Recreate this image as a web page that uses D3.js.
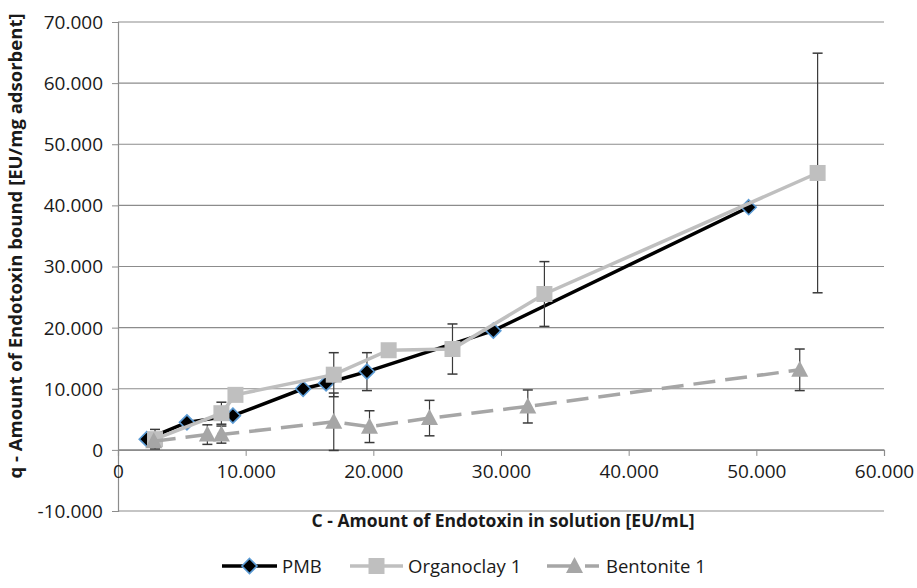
<!DOCTYPE html>
<html>
<head>
<meta charset="utf-8">
<script src="https://cdn.jsdelivr.net/npm/d3@7"></script>
<style>
  body { margin: 0; background: #fff; }
  text { font-family: "Open Sans", "Liberation Sans", sans-serif; fill: #1a1a1a; }
</style>
</head>
<body>
<svg id="chart" width="917" height="588"></svg>
<script>
//tick labels as printed on the chart
var xTicks = [0, 10000, 20000, 30000, 40000, 50000, 60000];
var xTickLabels = ["0", "10.000", "20.000", "30.000", "40.000", "50.000", "60.000"];
var yTicks = [-10, 0, 10, 20, 30, 40, 50, 60, 70];
var yTickLabels = ["-10.000", "0", "10.000", "20.000", "30.000", "40.000", "50.000", "60.000", "70.000"];

//PMB
var pmbX = [2250, 5400, 9000, 14500, 16300, 19500, 29400, 49400];
var pmbY = [1.75, 4.5, 5.6, 10.0, 10.9, 12.8, 19.5, 39.7];
var pmbErr = [0, 0, 0, 0, 0, 3.1, 0, 0];

//Organoclay 1
var orgX = [2900, 8100, 9200, 16900, 21200, 26200, 33400, 54800];
var orgY = [1.75, 6.0, 9.0, 12.3, 16.3, 16.5, 25.5, 45.3];
var orgErr = [1.6, 1.8, 0, 3.6, 0, 4.1, 5.3, 19.6];

//Bentonite 1
var benX = [2800, 7000, 8100, 16900, 19700, 24400, 32100, 53400];
var benY = [1.4, 2.5, 2.5, 4.6, 3.8, 5.2, 7.1, 13.1];
var benErr = [0, 1.6, 1.4, 4.7, 2.6, 2.9, 2.7, 3.4];

var seriesNames = ["PMB", "Organoclay 1", "Bentonite 1"];

var svg = d3.select("#chart");
var x = d3.scaleLinear().domain([0, 60000]).range([118, 884]);
var y = d3.scaleLinear().domain([-10, 70]).range([511, 22]);

function pts(xs, ys, es) {
	return xs.map(function(v, i) { return {x: v, y: ys[i], e: es[i]}; });
}
var series = [
	{name: seriesNames[0], values: pts(pmbX, pmbY, pmbErr), color: "#000", dash: null, marker: "diamond"},
	{name: seriesNames[1], values: pts(orgX, orgY, orgErr), color: "#bfbfbf", dash: null, marker: "square"},
	{name: seriesNames[2], values: pts(benX, benY, benErr), color: "#a6a6a6", dash: "22,10", marker: "triangle"}
];

//gridlines
svg.append("g")
	.selectAll("line").data(yTicks).join("line")
	.attr("x1", x(0)).attr("x2", x(60000))
	.attr("y1", function(d) { return y(d); }).attr("y2", function(d) { return y(d); })
	.attr("stroke", "#8c8c8c").attr("stroke-width", 1.2);

//y axis
var yAxis = d3.axisLeft(y).tickValues(yTicks).tickSize(6).tickPadding(9)
	.tickFormat(function(d, i) { return yTickLabels[i]; });
var gy = svg.append("g").attr("transform", "translate(" + x(0) + ",0)").call(yAxis);
gy.select(".domain").attr("stroke", "#8c8c8c").attr("stroke-width", 1.2);
gy.selectAll(".tick line").attr("stroke", "#8c8c8c");
gy.selectAll(".tick text").style("font-size", "19px").attr("fill", "#1a1a1a").attr("dy", "0.34em");

//x axis crossing at 0
var xAxis = d3.axisBottom(x).tickValues(xTicks).tickSize(6).tickPadding(9)
	.tickFormat(function(d, i) { return xTickLabels[i]; });
var gx = svg.append("g").attr("transform", "translate(0," + y(0) + ")").call(xAxis);
gx.select(".domain").attr("stroke", "#8c8c8c").attr("stroke-width", 1.2);
gx.selectAll(".tick line").attr("stroke", "#8c8c8c");
gx.selectAll(".tick text").style("font-size", "19px").attr("fill", "#1a1a1a");

//axis titles
svg.append("text")
	.attr("x", 503).attr("y", 527)
	.attr("text-anchor", "middle")
	.style("font-size", "17.5px").style("font-weight", "bold")
	.text("C - Amount of Endotoxin in solution [EU/mL]");
svg.append("text")
	.attr("transform", "translate(22,246) rotate(-90)")
	.attr("text-anchor", "middle")
	.style("font-size", "18.5px").style("font-weight", "bold")
	.text("q - Amount of Endotoxin bound [EU/mg adsorbent]");

//markers
function drawMarker(g, type, color) {
	if (type == "diamond")
		g.append("path").attr("d", "M0,-7.5L7.5,0L0,7.5L-7.5,0Z")
			.attr("fill", "#000").attr("stroke", "#5b9bd5").attr("stroke-width", 1.6);
	else if (type == "square")
		g.append("rect").attr("x", -8).attr("y", -8).attr("width", 16).attr("height", 16)
			.attr("fill", color);
	else
		g.append("path").attr("d", "M0,-9L8.5,7L-8.5,7Z").attr("fill", color);
}

var line = d3.line().x(function(d) { return x(d.x); }).y(function(d) { return y(d.y); });

series.forEach(function(s) {
	var g = svg.append("g");
	//error bars
	var eb = g.selectAll("g.err").data(s.values.filter(function(d) { return d.e > 0; })).join("g");
	eb.append("line")
		.attr("x1", function(d) { return x(d.x); }).attr("x2", function(d) { return x(d.x); })
		.attr("y1", function(d) { return y(d.y - d.e); }).attr("y2", function(d) { return y(d.y + d.e); })
		.attr("stroke", "#3a3a3a").attr("stroke-width", 1.2);
	[-1, 1].forEach(function(sg) {
		eb.append("line")
			.attr("x1", function(d) { return x(d.x) - 5; }).attr("x2", function(d) { return x(d.x) + 5; })
			.attr("y1", function(d) { return y(d.y + sg * d.e); }).attr("y2", function(d) { return y(d.y + sg * d.e); })
			.attr("stroke", "#3a3a3a").attr("stroke-width", 1.5);
	});
	g.append("path").datum(s.values)
		.attr("d", line)
		.attr("fill", "none")
		.attr("stroke", s.color).attr("stroke-width", 3.5)
		.attr("stroke-dasharray", s.dash);
	s.values.forEach(function(d) {
		drawMarker(g.append("g").attr("transform", "translate(" + x(d.x) + "," + y(d.y) + ")"), s.marker, s.color);
	});
});

//legend
var legendPos = [{x1: 222, x2: 277, tx: 282}, {x1: 350, x2: 403, tx: 408}, {x1: 547, x2: 602, tx: 606}];
series.forEach(function(s, i) {
	var p = legendPos[i];
	var g = svg.append("g");
	g.append("line").attr("x1", p.x1).attr("x2", p.x2).attr("y1", 566).attr("y2", 566)
		.attr("stroke", s.color).attr("stroke-width", 3.5).attr("stroke-dasharray", s.dash ? "30,8,14" : null);
	drawMarker(g.append("g").attr("transform", "translate(" + ((p.x1 + p.x2) / 2) + ",566)"), s.marker, s.color);
	g.append("text").attr("x", p.tx).attr("y", 573)
		.style("font-size", "18.5px").text(s.name);
});
</script>
</body>
</html>
